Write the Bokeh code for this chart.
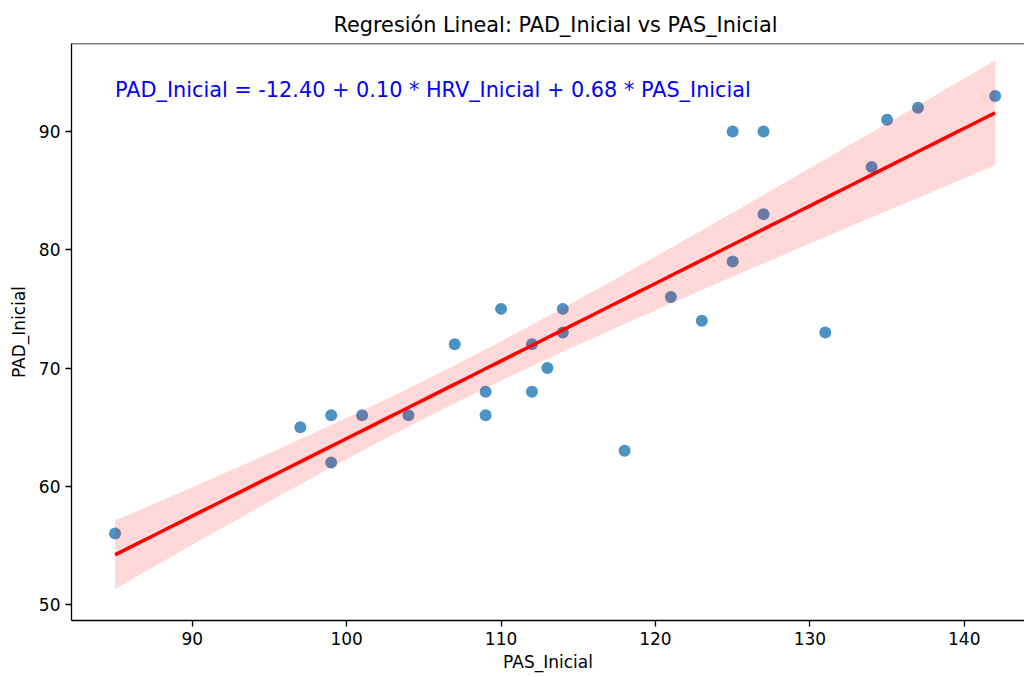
import numpy as np
from bokeh.plotting import figure
from bokeh.models import Range1d, Label, Span, ColumnDataSource
from bokeh.embed import file_html
from bokeh.resources import INLINE

# Data
pas_inicial = [85, 97, 99, 99, 101, 104, 107, 109, 109, 110, 112, 112, 113, 114, 114,
               118, 121, 123, 125, 125, 127, 127, 131, 134, 135, 137, 142]
pad_inicial = [56, 65, 66, 62, 66, 66, 72, 68, 66, 75, 72, 68, 70, 75, 73,
               63, 76, 74, 90, 79, 90, 83, 73, 87, 91, 92, 93]
x_ticks = [90, 100, 110, 120, 130, 140]
y_ticks = [50, 60, 70, 80, 90]
title_text = "Regresión Lineal: PAD_Inicial vs PAS_Inicial"
eq_text = "PAD_Inicial = -12.40 + 0.10 * HRV_Inicial + 0.68 * PAS_Inicial"

# OLS fit with a heteroscedasticity-consistent (sandwich) 95% confidence band
x = np.array(pas_inicial, float)
y = np.array(pad_inicial, float)
n = len(x)
X = np.column_stack([np.ones(n), x])
XtX_inv = np.linalg.inv(X.T @ X)
beta = XtX_inv @ X.T @ y
resid = y - X @ beta
meat = X.T @ (X * (resid ** 2)[:, None])
V = XtX_inv @ meat @ XtX_inv * n / (n - 2)
grid = np.linspace(x.min(), x.max(), 100)
G = np.column_stack([np.ones_like(grid), grid])
fit = G @ beta
se = np.sqrt(np.einsum("ij,jk,ik->i", G, V, G))
tcrit = 2.060
lower = fit - tcrit * se
upper = fit + tcrit * se

FONT = "DejaVu Sans"
p = figure(width=1024, height=674, output_backend="svg", toolbar_location=None,
           x_range=Range1d(82.18, 143.90), y_range=Range1d(48.65, 97.44),
           min_border_left=71, min_border_right=0, min_border_top=43, min_border_bottom=54)

p.title.text = title_text
p.title.text_font = FONT
p.title.text_font_size = "20.8px"
p.title.text_font_style = "normal"
p.title.text_color = "black"
p.title.align = "left"
p.title.offset = 262
p.title.standoff = 13

p.outline_line_color = None
p.grid.visible = False
p.background_fill_color = "white"
p.border_fill_color = "white"

for ax in (p.xaxis[0], p.yaxis[0]):
    ax.major_label_text_font = FONT
    ax.major_label_text_font_size = "17px"
    ax.major_label_text_color = "black"
    ax.axis_label_text_font = FONT
    ax.axis_label_text_font_size = "17px"
    ax.axis_label_text_font_style = "normal"
    ax.axis_label_text_color = "black"
    ax.major_tick_out = 6
    ax.major_tick_in = 0
    ax.minor_tick_out = 0
    ax.minor_tick_in = 0
    ax.axis_line_color = "black"
    ax.axis_line_width = 1.3
    ax.major_tick_line_color = "black"
    ax.major_tick_line_width = 1.3

p.xaxis.ticker = x_ticks
p.yaxis.ticker = y_ticks
p.xaxis.axis_label = "PAS_Inicial"
p.yaxis.axis_label = "PAD_Inicial"
p.xaxis.major_label_standoff = 5
p.xaxis.axis_label_standoff = 4
p.yaxis.major_label_standoff = 5
p.yaxis.axis_label_standoff = 7

p.add_layout(Span(location=97.44, dimension="width", line_color="black", line_width=1.3))

src = ColumnDataSource(dict(x=pas_inicial, y=pad_inicial))
p.scatter("x", "y", source=src, size=12, fill_color="#1f77b4", fill_alpha=0.8,
          line_color=None)

p.varea(x=grid, y1=lower, y2=upper, fill_color="red", fill_alpha=0.15)
p.line(grid, fit, line_color="red", line_width=3.5)

p.add_layout(Label(x=85, y=93.55, text=eq_text, text_font=FONT, text_font_size="20.8px",
                   text_color="blue", text_baseline="middle", text_align="left"))

open("out.html", "w").write(file_html(p, INLINE))
